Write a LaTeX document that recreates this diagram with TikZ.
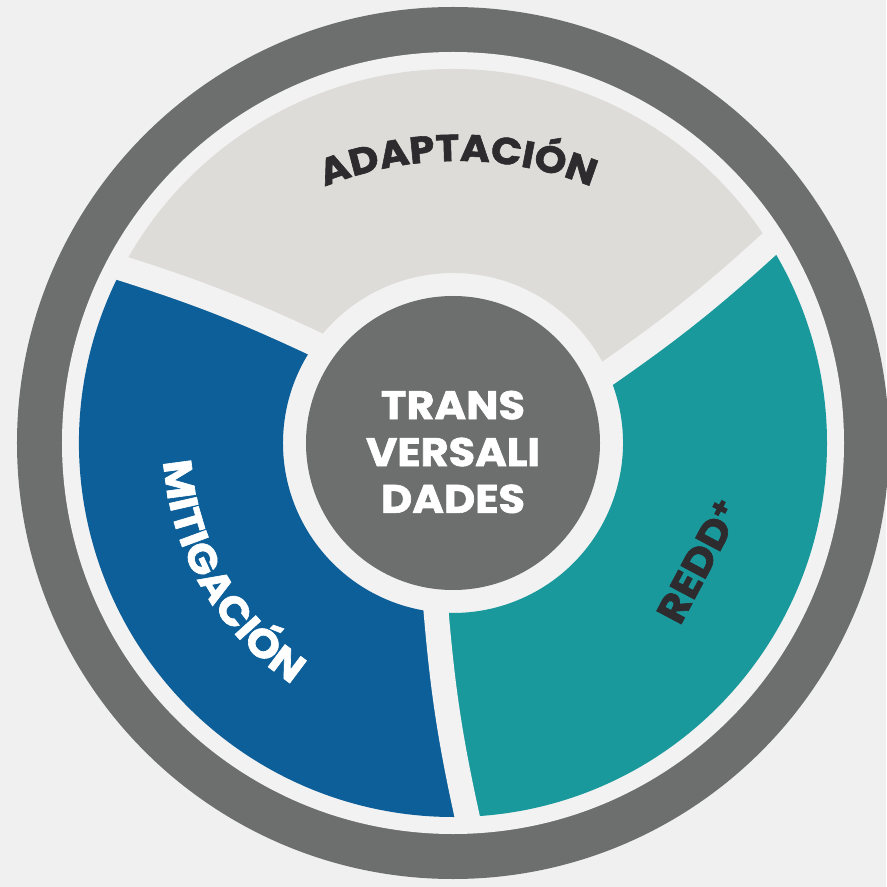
\documentclass[tikz,border=0pt]{standalone}
\usepackage{fontspec}
\setmainfont{Poppins}[BoldFeatures={FakeBold=1.6, FakeStretch=1.08}]
\usetikzlibrary{decorations.text}

\definecolor{fondo}{HTML}{F0F0F0}
\definecolor{anillo}{HTML}{6C6F6E}
\definecolor{hueco}{HTML}{F2F2F2}
\definecolor{adapt}{HTML}{DEDCD8}
\definecolor{mitig}{HTML}{0D5F99}
\definecolor{redd}{HTML}{1A999C}
\definecolor{oscuro}{HTML}{2E2B2F}

\newcommand\rotulo{\bfseries\fontsize{34}{40}\selectfont}
\newcommand\rotulochico{\bfseries\fontsize{32}{40}\selectfont}

\begin{document}
\begin{tikzpicture}
[
    x=0.3mm, y=0.3mm,
    separador/.style={draw=hueco, line width=7.5mm},
    etiqueta/.style={font=\rotulo},
]
\useasboundingbox (-453,-444) rectangle (433,443);
\fill[fondo] (-453,-444) rectangle (433,443);
\fill[anillo] (0,0) circle[radius=436];
\fill[hueco] (0,0) circle[radius=391];
\foreach \a/\c in {24/adapt, 144/mitig, 264/redd}
    \fill[\c] ({\a}:170) -- ({\a+8}:374)
        arc[start angle=\a+8, end angle=\a+128, radius=374]
        -- ({\a+120}:170) arc[start angle=\a+120, end angle=\a, radius=170] -- cycle;
\foreach \a in {24, 144, 264}
    \draw[separador] ({\a-0.5}:158) to[bend right=4] ({\a+8.5}:386);
\node (nucleo) [circle, fill=anillo, minimum size=88.2mm, inner sep=0pt] at (0,0) {};
\node (trans) [etiqueta, text=white, align=center] at (0,-9) {TRANS\\VERSALI\\DADES};
\path[decorate, decoration={text along path, text align=center,
    text={|\rotulochico\color{oscuro}|ADAPTACIÓN}}]
    (5,-76) ++(130:358) arc[start angle=130, end angle=50, radius=358];
\path[decorate, decoration={text along path, text align=center,
    text={|\rotulo\color{white}|MITIGACIÓN}}]
    (164:290) arc[start angle=164, end angle=256, radius=290];
\node (reddmas) [etiqueta, text=oscuro, rotate=62] at (246,-118) {REDD\textsuperscript{+}};
\end{tikzpicture}
\end{document}
